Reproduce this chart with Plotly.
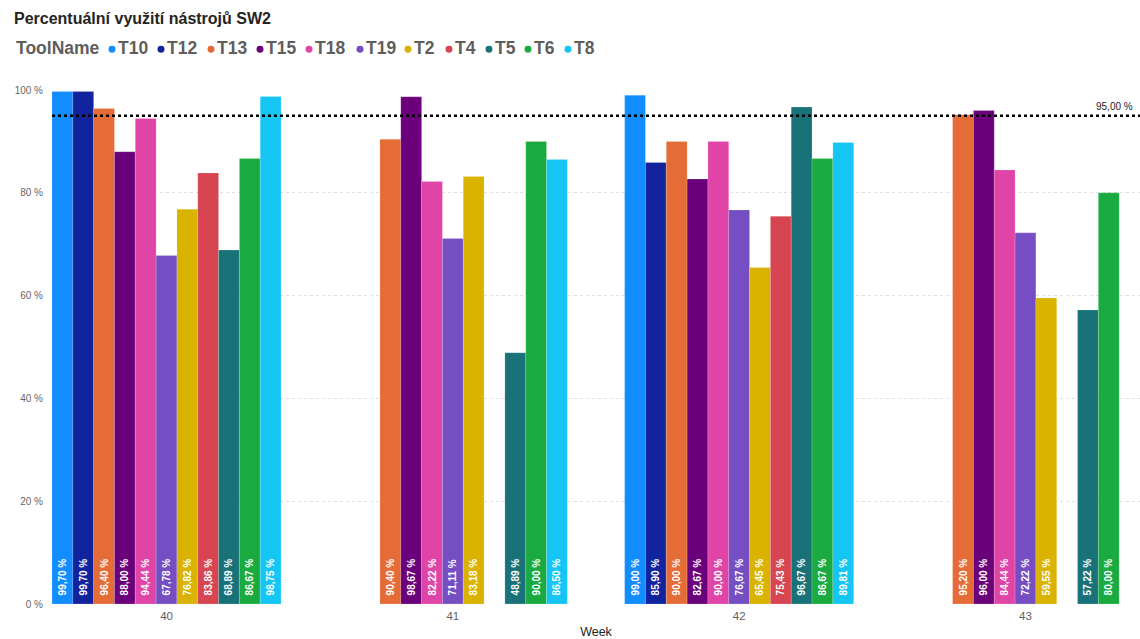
import plotly.graph_objects as go

weeks = ["40", "41", "42", "43"]
tools = ["T10", "T12", "T13", "T15", "T18", "T19", "T2", "T4", "T5", "T6", "T8"]
colors = ["#118DFF", "#12239E", "#E66C37", "#6B007B", "#E044A7", "#744EC2",
          "#D9B300", "#D64550", "#197278", "#1AAB40", "#15C6F4"]

T10 = [99.70, None, 99.00, None]
T12 = [99.70, None, 85.90, None]
T13 = [96.40, 90.40, 90.00, 95.20]
T15 = [88.00, 98.67, 82.67, 96.00]
T18 = [94.44, 82.22, 90.00, 84.44]
T19 = [67.78, 71.11, 76.67, 72.22]
T2 = [76.82, 83.18, 65.45, 59.55]
T4 = [83.86, None, 75.43, None]
T5 = [68.89, 48.89, 96.67, 57.22]
T6 = [86.67, 90.00, 86.67, 80.00]
T8 = [98.75, 86.50, 89.81, None]
series = [T10, T12, T13, T15, T18, T19, T2, T4, T5, T6, T8]

target = 95.0
y_ticks = [0, 20, 40, 60, 80, 100]

NB = "\u00a0"

# layout constants (pixels) for the custom legend row
W, H = 1140, 639
ML, MR, MT, MB = 52, 0, 90, 33
PW, PH = W - ML - MR, H - MT - MB
legend_y = 48
legend_dot_x = [112, 161, 211, 260, 309, 360, 408, 449, 489, 528, 568]


def px_x(px):
    return (px - ML) / PW


def px_y(py):
    return (H - MB - py) / PH


def fmt(v):
    return "" if v is None else f"{v:.2f}".replace(".", ",") + " %"


fig = go.Figure()
for name, vals, col in zip(tools, series, colors):
    fig.add_trace(go.Bar(
        x=weeks, y=vals, name=name,
        marker=dict(color=col, line=dict(color="rgba(255,255,255,0.35)", width=0.5)),
        text=[("" if v is None else NB * 2 + fmt(v)) for v in vals],
        textposition="inside", insidetextanchor="start", textangle=-90,
        textfont=dict(color="white", size=10, family="Liberation Sans", weight="bold"),
        showlegend=False,
    ))

fig.add_shape(type="line", xref="paper", x0=0, x1=1, yref="y", y0=target, y1=target,
              line=dict(color="#000000", width=2.5, dash="dot"))
fig.add_annotation(xref="paper", x=0.995, yref="y", y=target, xanchor="right", yanchor="bottom",
                   text=fmt(target), showarrow=False, yshift=2,
                   font=dict(size=10, color="#252423", family="Liberation Sans"))

# legend row
legend_font = dict(size=17.5, color="#605E5C", family="Liberation Sans", weight="bold")
fig.add_annotation(xref="paper", yref="paper", x=px_x(14), y=px_y(legend_y),
                   xanchor="left", yanchor="middle", showarrow=False,
                   text="ToolName", font=legend_font)
r = 3.5
for name, col, dx in zip(tools, colors, legend_dot_x):
    fig.add_shape(type="circle", xref="paper", yref="paper",
                  x0=px_x(dx - r), x1=px_x(dx + r), y0=px_y(legend_y + 1 + r), y1=px_y(legend_y + 1 - r),
                  fillcolor=col, line=dict(width=0))
    fig.add_annotation(xref="paper", yref="paper", x=px_x(dx + 4), y=px_y(legend_y),
                       xanchor="left", yanchor="middle", showarrow=False,
                       text=name, font=legend_font)

fig.update_layout(
    width=W, height=H,
    margin=dict(l=ML, r=MR, t=MT, b=MB),
    paper_bgcolor="white", plot_bgcolor="white",
    barmode="group", bargap=0.2, bargroupgap=0,
    title=dict(text="<b>Percentuální využití nástrojů SW2</b>", xref="container", yref="container",
               x=14 / W, y=1 - 18 / H, xanchor="left", yanchor="middle",
               font=dict(size=16, color="#252423", family="Liberation Sans")),
    font=dict(family="Liberation Sans"),
)
fig.update_xaxes(type="category", range=[-0.4, 3.4], showgrid=False, zeroline=False,
                 showline=False, ticks="", ticklabelstandoff=3,
                 tickfont=dict(size=11.5, color="#605E5C"),
                 title=dict(text="Week", font=dict(size=12.5, color="#252423"), standoff=9))
fig.update_yaxes(range=[0, 100], tickvals=y_ticks, ticktext=[f"{v} %" for v in y_ticks],
                 showgrid=True, gridcolor="#E1DFDD", griddash="dot", gridwidth=1,
                 zeroline=False, showline=False, ticks="", ticklabelstandoff=8,
                 tickfont=dict(size=10, color="#666666"))

fig.write_html("out.html")
